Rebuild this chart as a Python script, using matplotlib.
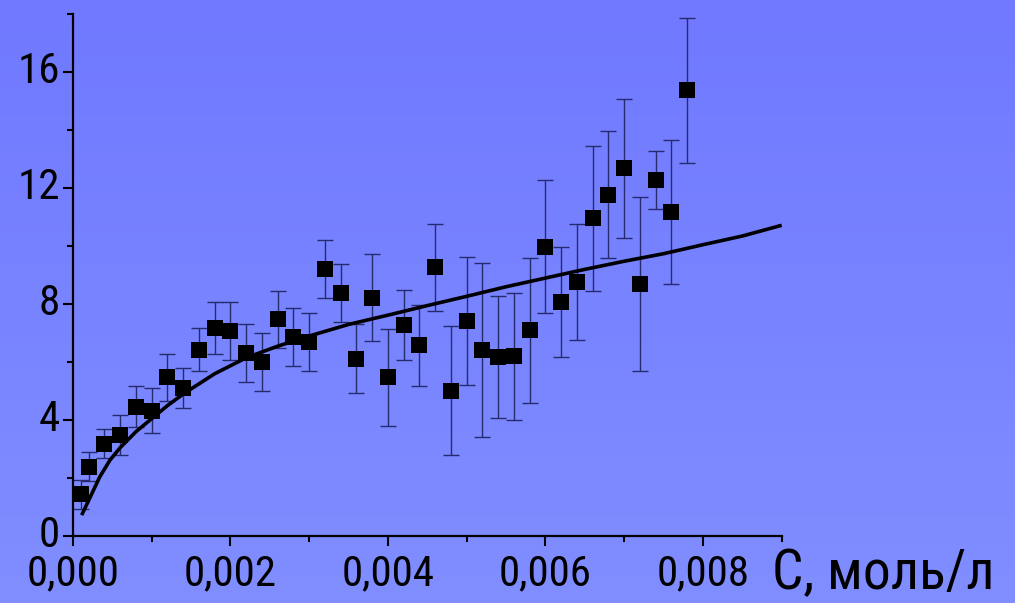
import numpy as np
import matplotlib
matplotlib.use("Agg")
import matplotlib.pyplot as plt
import matplotlib.transforms as mtransforms
from matplotlib.ticker import MultipleLocator, FixedLocator

# ---- data ----
conc = [0.0001, 0.0002, 0.0004, 0.0006, 0.0008, 0.0010, 0.0012, 0.0014, 0.0016, 0.0018,
        0.0020, 0.0022, 0.0024, 0.0026, 0.0028, 0.0030, 0.0032, 0.0034, 0.0036, 0.0038,
        0.0040, 0.0042, 0.0044, 0.0046, 0.0048, 0.0050, 0.0052, 0.0054, 0.0056, 0.0058,
        0.0060, 0.0062, 0.0064, 0.0066, 0.0068, 0.0070, 0.0072, 0.0074, 0.0076, 0.0078]
values = [1.44, 2.39, 3.19, 3.48, 4.46, 4.32, 5.47, 5.11, 6.43, 7.19,
          7.07, 6.32, 6.01, 7.47, 6.87, 6.70, 9.22, 8.39, 6.12, 8.22,
          5.47, 7.28, 6.58, 9.27, 5.02, 7.42, 6.43, 6.18, 6.20, 7.10,
          9.98, 8.07, 8.76, 10.97, 11.78, 12.69, 8.68, 12.27, 11.18, 15.38]
errors = [0.50, 0.50, 0.50, 0.68, 0.70, 0.78, 0.80, 0.68, 0.75, 0.90,
          1.00, 1.00, 1.00, 1.00, 1.00, 1.00, 1.00, 1.00, 1.20, 1.50,
          1.68, 1.20, 1.40, 1.50, 2.24, 2.20, 3.00, 2.10, 2.20, 2.50,
          2.30, 1.90, 2.00, 2.50, 2.20, 2.40, 3.00, 1.00, 2.50, 2.50]

fit_x = [0.00011, 0.00022, 0.00034, 0.00047, 0.0006, 0.0008, 0.0010, 0.0012, 0.0014,
         0.0018, 0.0022, 0.0026, 0.0030, 0.0035, 0.0040, 0.0045, 0.0050, 0.0055,
         0.0060, 0.0065, 0.0070, 0.0075, 0.0080, 0.0085, 0.0090]
fit_y = [0.72, 1.35, 2.04, 2.62, 3.05, 3.60, 4.05, 4.50, 4.90,
         5.60, 6.15, 6.55, 6.90, 7.30, 7.62, 7.95, 8.27, 8.60,
         8.90, 9.20, 9.48, 9.74, 10.05, 10.35, 10.72]

x_ticks = [0.000, 0.002, 0.004, 0.006, 0.008]
x_ticklabels = ["0,000", "0,002", "0,004", "0,006", "0,008"]
y_ticks = [0, 4, 8, 12, 16]
y_ticklabels = ["0", "4", "8", "12", "16"]
x_label = "C, моль/л"

fam = ["Roboto Condensed", "DejaVu Sans"]

W, H = 1015, 603
fig = plt.figure(figsize=(W / 100, H / 100), dpi=100)

# gradient background
bg = fig.add_axes([0, 0, 1, 1], zorder=-10)
top = np.array([112, 121, 255]) / 255.0
bot = np.array([128, 142, 255]) / 255.0
t = np.linspace(0, 1, 256)[:, None]
grad = (top[None, :] * (1 - t) + bot[None, :] * t)[:, None, :]
bg.imshow(grad, aspect="auto", extent=[0, 1, 0, 1], origin="upper")
bg.axis("off")

ax = fig.add_axes([73 / W, 1 - 536 / H, (781.7 - 73) / W, (536 - 14.3) / H])
ax.patch.set_alpha(0)

ax.errorbar(conc, values, yerr=errors, fmt="none", ecolor="#262b6e",
            elinewidth=1.0, capsize=5.5, capthick=1.0, zorder=2)
ax.plot(conc, values, "s", color="black", markersize=11, mew=0, zorder=3)
ax.plot(fit_x, fit_y, "-", color="black", lw=2.6, zorder=4,
        solid_capstyle="butt", solid_joinstyle="round")

ax.set_xlim(0, 0.009)
ax.set_ylim(0, 18)
for s in ["top", "right"]:
    ax.spines[s].set_visible(False)
for s in ["left", "bottom"]:
    ax.spines[s].set_linewidth(1.6)
    ax.spines[s].set_color("black")

ax.xaxis.set_major_locator(FixedLocator(x_ticks))
ax.set_xticklabels(x_ticklabels)
ax.xaxis.set_minor_locator(MultipleLocator(0.001))
ax.yaxis.set_major_locator(FixedLocator(y_ticks))
ax.set_yticklabels(y_ticklabels)
ax.yaxis.set_minor_locator(MultipleLocator(2))

ax.tick_params(which="major", direction="out", length=7.5, width=1.5, color="black")
ax.tick_params(which="minor", direction="out", length=4, width=1.5, color="black")
ax.tick_params(axis="x", which="major", pad=5)
ax.tick_params(axis="y", which="major", pad=2)
for lab in ax.get_xticklabels() + ax.get_yticklabels():
    lab.set_fontfamily(fam)
    lab.set_fontsize(31)
    lab.set_color("black")

# y tick labels sit slightly above their ticks in the reference
shift = mtransforms.ScaledTranslation(0, 5 / 100, fig.dpi_scale_trans)
for tk in ax.yaxis.get_major_ticks():
    tk.label1.set_transform(tk.label1.get_transform() + shift)

fig.text(772 / W, 1 - 589 / H, x_label, fontsize=40, family=fam,
         ha="left", va="baseline", color="black")

fig.savefig("out.png", dpi=100)
